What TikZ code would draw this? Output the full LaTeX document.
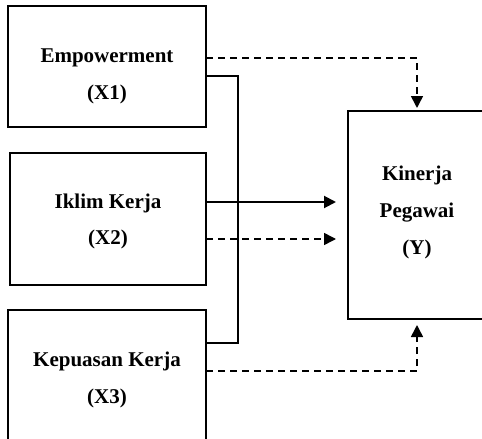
\documentclass[tikz,border=0pt]{standalone}
\usepackage{fontspec}
\setmainfont{Liberation Serif}
\usetikzlibrary{arrows.meta,calc}
\begin{document}
\begin{tikzpicture}[x=1pt,y=-1pt,
 box/.style={draw,line width=1.3pt,inner sep=0pt,outer sep=0pt},
 lbl/.style={font=\fontsize{21}{25}\selectfont\bfseries,anchor=base,inner sep=0pt},
 dsh/.style={line width=1.6pt,dash pattern=on 7pt off 5pt},
 solidln/.style={line width=1.3pt},
 tip/.style={-{Triangle[length=12pt,width=12pt]}}]
\useasboundingbox (0,0) rectangle (482,439);
\clip (0,0) rectangle (482,439);
% boxes
\node[box,minimum width=198pt,minimum height=121pt] (X1) at (107,66.5) {};
\node[box,minimum width=196pt,minimum height=132pt] (X2) at (108,219) {};
\node[box,minimum width=198pt,minimum height=150pt] (X3) at (107,385) {};
\node[box,minimum width=152pt,minimum height=208pt] (Y) at (424,215) {};
% labels
\node[lbl] (t1a) at (107,62) {Empowerment};
\node[lbl] (t1b) at (107,99) {(X1)};
\node[lbl] (t2a) at (108,208) {Iklim Kerja};
\node[lbl] (t2b) at (108,244) {(X2)};
\node[lbl] (t3a) at (107,366) {Kepuasan Kerja};
\node[lbl] (t3b) at (107,403) {(X3)};
\node[lbl] (tya) at (417,180) {Kinerja};
\node[lbl] (tyb) at (417,217) {Pegawai};
\node[lbl] (tyc) at (417,254) {(Y)};
% arrow ends
\coordinate (ytop) at (417,108);
\coordinate (ybot) at (417,325);
% connectors
\draw[dsh,tip] ($(X1.north east)+(0,52)$) -| (ytop);
\draw[solidln] ($(X1.north east)+(0,70)$) -- ++(32,0) |- ($(X3.north east)+(0,33)$);
\draw[line width=2pt,tip] ($(X2.north east)+(0,49)$) -- ++(130,0);
\draw[dsh,tip] ($(X2.north east)+(0,86)$) -- ++(130,0);
\draw[dsh,tip] ($(X3.north east)+(0,61)$) -| (ybot);
\end{tikzpicture}
\end{document}
